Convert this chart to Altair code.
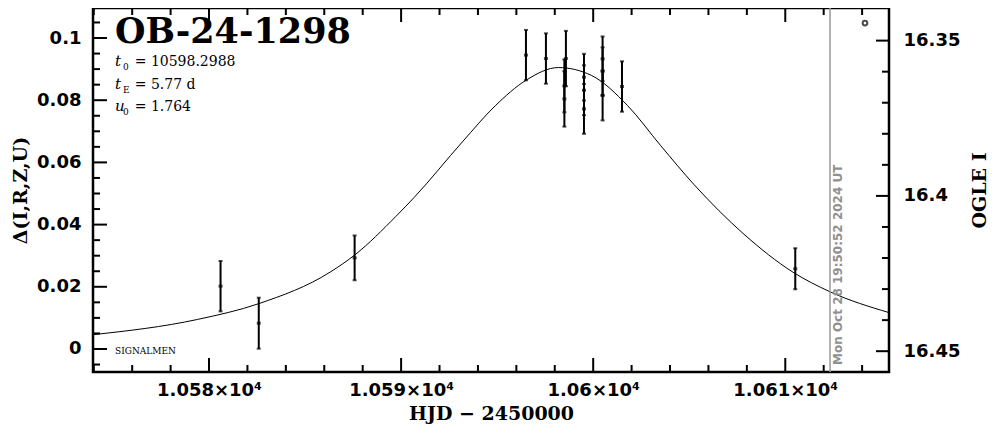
import altair as alt
import pandas as pd

# ---------------- data ----------------
model_t = [10573.96, 10579.4, 10582.6, 10586.3, 10587.6, 10589.74, 10590.69, 10593.19,
           10594.9, 10596.5, 10598.19, 10599.9, 10601.8, 10603.5, 10605.26, 10607.85,
           10610.4, 10612.33, 10615.4]
model_v = [0.0046, 0.0095, 0.0146, 0.0247, 0.0303, 0.0427, 0.0488, 0.0666,
           0.0782, 0.0864, 0.0905, 0.0880, 0.0782, 0.0655, 0.0528, 0.0369,
           0.0247, 0.0184, 0.0117]

obs_t = [10580.6, 10582.59, 10587.58, 10596.5, 10597.54, 10598.58, 10598.5, 10598.5,
         10599.52, 10599.52, 10599.52, 10600.49, 10600.49, 10600.49, 10601.5, 10610.52]
obs_v = [0.0202, 0.0083, 0.0293, 0.0945, 0.0934, 0.0934, 0.0846, 0.0804,
         0.0874, 0.0832, 0.0772, 0.0933, 0.0893, 0.0815, 0.0844, 0.0258]
obs_e = [0.0081, 0.0082, 0.0072, 0.0081, 0.0081, 0.0089, 0.0085, 0.0089,
         0.0075, 0.0080, 0.0080, 0.0072, 0.0077, 0.0080, 0.0081, 0.0066]

x_major = [10580, 10590, 10600, 10610]
x_minor = [10574, 10576, 10578, 10582, 10584, 10586, 10588, 10592, 10594, 10596,
           10598, 10602, 10604, 10606, 10608, 10612, 10614]
y_major = [0, 0.02, 0.04, 0.06, 0.08, 0.1]
y_minor = [-0.005, 0.005, 0.01, 0.015, 0.025, 0.03, 0.035, 0.045, 0.05, 0.055,
           0.065, 0.07, 0.075, 0.085, 0.09, 0.095, 0.105]
r_major = [16.35, 16.4, 16.45]
r_minor = [16.36, 16.37, 16.38, 16.39, 16.41, 16.42, 16.43, 16.44]

now_t = [10612.33]
ogle_marker_t = [10614.15]
ogle_marker_v = [0.1048]

event_name = "OB-24-1298"
param_syms = ["t", "t", "u"]
param_subs = ["0", "E", "0"]
param_vals = ["= 10598.2988", "= 5.77 d", "= 1.764"]
signature = "SIGNALMEN"
stamp = "Mon Oct 28 19:50:52 2024 UT"
x_title = "HJD − 2450000"
y_title = "Δ(I,R,Z,U)"
r_title = "OGLE I"

# ---------------- layout ----------------
W, H = 796, 364
SERIF = "DejaVu Serif"
SANS = "DejaVu Sans"

xs = alt.Scale(domain=[10573.96, 10615.4], nice=False, zero=False)
ys = alt.Scale(domain=[-0.0074, 0.10965], nice=False, zero=False)
yr = alt.Scale(domain=[16.3395, 16.4567], nice=False, zero=False, reverse=True)

x_axis = alt.Axis(
    values=x_major, title=x_title,
    labelExpr="format(datum.value / 10000, '.4~f') + '×10⁴'",
    labelPadding=9, titlePadding=5)

curve_df = pd.DataFrame({"t": model_t, "v": model_v})
obs_df = pd.DataFrame({"t": obs_t, "v": obs_v, "e": obs_e})
obs_df["lo"] = obs_df["v"] - obs_df["e"]
obs_df["hi"] = obs_df["v"] + obs_df["e"]


def X_ax(f):
    return alt.X(f, type="quantitative", scale=xs, axis=x_axis)


def Y_none(f):
    return alt.Y(f, type="quantitative", scale=ys, axis=None)


curve = alt.Chart(curve_df).mark_line(color="black", strokeWidth=1, interpolate="monotone").encode(
    x=X_ax("t"),
    y=alt.Y("v:Q", scale=ys, axis=alt.Axis(
        values=y_major, title=y_title, orient="left", format="~g",
        labelPadding=12, titlePadding=6)),
)

errs = alt.Chart(obs_df).mark_rule(color="black", strokeWidth=2).encode(
    x=X_ax("t"), y=Y_none("lo"), y2="hi")
cap_hi = alt.Chart(obs_df).mark_tick(color="black", orient="horizontal", size=4, thickness=2).encode(
    x=X_ax("t"), y=Y_none("hi"))
cap_lo = alt.Chart(obs_df).mark_tick(color="black", orient="horizontal", size=4, thickness=2).encode(
    x=X_ax("t"), y=Y_none("lo"))
dots = alt.Chart(obs_df).mark_tick(color="black", orient="horizontal", size=4, thickness=3).encode(
    x=X_ax("t"), y=Y_none("v"))


def xticks(vals, length):
    d = pd.DataFrame({"t": vals})
    bot = alt.Chart(d).mark_rule(color="black", strokeWidth=2).encode(
        x=X_ax("t"), y=alt.value(H), y2=alt.value(H - length))
    top = alt.Chart(d).mark_rule(color="black", strokeWidth=2).encode(
        x=X_ax("t"), y=alt.value(0), y2=alt.value(length))
    return [bot, top]


def lticks(vals, length):
    d = pd.DataFrame({"v": vals})
    return alt.Chart(d).mark_rule(color="black", strokeWidth=2).encode(
        y=Y_none("v"), x=alt.value(0), x2=alt.value(length))


now_line = alt.Chart(pd.DataFrame({"t": now_t})).mark_rule(color="#999999", strokeWidth=1.5).encode(
    x=X_ax("t"), y=alt.value(0), y2=alt.value(H))

marker = alt.Chart(pd.DataFrame({"t": ogle_marker_t, "v": ogle_marker_v})).mark_point(
    shape="circle", filled=False, color="black", strokeWidth=2, size=22).encode(
    x=X_ax("t"), y=Y_none("v"))


def txt(s, x, y, **kw):
    return alt.Chart(pd.DataFrame({"s": [s]})).mark_text(align="left", baseline="alphabetic", **kw).encode(
        x=alt.value(x), y=alt.value(y), text="s:N")


texts = [txt(event_name, 22, 35, font=SERIF, fontSize=35, fontWeight="bold", color="black")]
for i, (sym, sub, val) in enumerate(zip(param_syms, param_subs, param_vals)):
    yb = [58.4, 81, 102.6][i]
    texts.append(txt(sym, 22, yb, font=SERIF, fontSize=15, fontStyle="italic", color="black"))
    texts.append(txt(sub, 30, yb + 4, font=SERIF, fontSize=9, color="black"))
    texts.append(txt(val, 41.7, yb, font=SERIF, fontSize=14, color="black"))
texts.append(txt(signature, 22, 346, font=SERIF, fontSize=9, color="black"))
texts.append(alt.Chart(pd.DataFrame({"s": [stamp]})).mark_text(
    align="left", baseline="top", angle=270, font=SANS, fontSize=12, fontWeight="bold",
    color="#909090").encode(x=alt.value(740), y=alt.value(357), text="s:N"))

r_maj = alt.Chart(pd.DataFrame({"m": r_major})).mark_rule(color="black", strokeWidth=2).encode(
    y=alt.Y("m:Q", scale=yr, axis=alt.Axis(
        orient="right", values=r_major, format="~g", title=r_title,
        titleAngle=270, labelPadding=14, titlePadding=30)),
    x=alt.value(W), x2=alt.value(W - 13))
r_min = alt.Chart(pd.DataFrame({"m": r_minor})).mark_rule(color="black", strokeWidth=2).encode(
    y=alt.Y("m:Q", scale=yr, axis=None),
    x=alt.value(W), x2=alt.value(W - 7))

chart = alt.layer(
    curve, errs, cap_hi, cap_lo, dots,
    *xticks(x_major, 14), *xticks(x_minor, 7),
    lticks(y_major, 14), lticks(y_minor, 7),
    now_line, marker, *texts, r_maj, r_min,
).resolve_scale(y="independent").properties(
    width=W, height=H,
    autosize=alt.AutoSizeParams(type="none"),
    padding={"left": 85, "top": 0, "right": 102, "bottom": 54},
).configure_view(stroke="black", strokeWidth=2.5).configure_axis(
    domain=False, ticks=False, grid=False,
    labelFont=SANS, labelFontSize=18, labelFontWeight="bold", labelColor="black",
    titleFont=SERIF, titleFontSize=19, titleFontWeight="bold", titleColor="black",
)

chart.save("out.html", embed_options={"renderer": "svg", "actions": False})
